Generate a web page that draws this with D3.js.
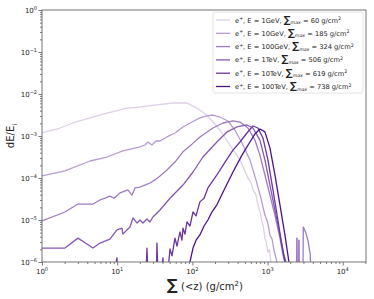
<!DOCTYPE html>
<html lang="en">
<head>
<meta charset="UTF-8"/>
<title>Shower profile</title>
<script src="https://d3js.org/d3.v7.min.js"></script>
<style>
  body { margin: 0; background: #fff; }
  text { font-family: "DejaVu Sans", sans-serif; fill: #222; }
</style>
</head>
<body>
<script>
    var w = 374;
    var h = 299;
    var margin = {left: 42, right: 8, top: 10, bottom: 37};

    // legend text pieces
    var energies = ["1GeV", "10GeV", "100GeV", "1TeV", "10TeV", "100TeV"];
    var sigmaMax = [60, 185, 324, 506, 619, 738];
    var colors = ["#ddd0e8", "#b69cd2", "#9d7cc4", "#8658b4", "#6b35a2", "#4c1289"];

    var xMajor = [1, 10, 100, 1000, 10000];
    var yMajor = [1e-6, 1e-5, 1e-4, 1e-3, 1e-2, 1e-1, 1];

    // [depth g/cm2, dE/Ei]; 1e-7 = dropped to zero
    var e1GeV = [[1, 1.18e-3], [1.74, 1.55e-3], [2.58, 2.04e-3], [4.35, 2.7e-3], [7.3, 3.5e-3],
        [13.5, 4.6e-3], [20.1, 4.9e-3], [33.8, 5.5e-3], [55.2, 6.1e-3], [84.8, 6.1e-3],
        [115, 4.6e-3], [156, 3.16e-3], [233, 1.39e-3], [316, 6.1e-4], [430, 2.7e-4],
        [549, 1.0e-4], [600, 8.0e-5], [640, 5.2e-5], [700, 4.0e-5], [745, 2.3e-5],
        [800, 1.5e-5], [843, 9.0e-6], [880, 7.0e-6], [923, 3.7e-6], [960, 3.0e-6],
        [1012, 1.7e-6], [1060, 2.0e-6], [1109, 1.0e-6], [1150, 1e-7]];

    var e10GeV = [[1, 1.12e-4], [2.02, 1.47e-4], [4.35, 2.54e-4], [7.3, 3.16e-4], [11.9, 4.4e-4],
        [20.1, 5.5e-4], [23.4, 6.1e-4], [25.7, 7.2e-4], [29.0, 6.1e-4], [32.8, 7.6e-4],
        [37.1, 7.6e-4], [45.9, 9.5e-4], [58.7, 1.18e-3], [75.0, 1.64e-3], [98.8, 2.15e-3],
        [126, 2.7e-3], [156, 3.0e-3], [188, 3.16e-3], [233, 2.83e-3], [297, 2.28e-3],
        [368, 1.39e-3], [457, 6.8e-4], [583, 2.7e-4], [701, 9.0e-5], [817, 3.3e-5],
        [923, 1.31e-5], [1000, 9.0e-6], [1076, 4.4e-6], [1150, 3.5e-6], [1217, 1.93e-6],
        [1334, 1.0e-6], [1380, 1e-7]];

    var e100GeV = [[1, 9.5e-6], [2.02, 1.55e-5], [3.01, 2.4e-5], [4.77, 2.4e-5], [5.91, 3.0e-5],
        [6.88, 3.3e-5], [8.02, 3.7e-5], [9.06, 3.3e-5], [10.9, 4.4e-5], [13.9, 5.2e-5],
        [15.7, 3.9e-5], [17.3, 5.8e-5], [20.1, 6.1e-5], [23.4, 6.8e-5], [27.3, 7.6e-5],
        [31.8, 9.0e-5], [37.1, 1.12e-4], [45.9, 1.55e-4], [58.7, 2.4e-4], [75.0, 4.2e-4],
        [98.8, 6.4e-4], [126, 9.5e-4], [188, 1.55e-3], [255, 2.04e-3], [347, 2.28e-3],
        [430, 2.15e-3], [549, 1.55e-3], [680, 8.0e-4], [792, 3.5e-4], [923, 1.18e-4],
        [1076, 3.9e-5], [1254, 1.31e-5], [1462, 3.7e-6], [1603, 1.47e-6], [1703, 1.0e-6],
        [1750, 1e-7], [2940, 1e-7], [2990, 6.8e-6], [3200, 5.2e-6], [3443, 3.3e-6],
        [3700, 1.5e-6], [3892, 1e-7]];

    var e1TeV = [[1, 2.15e-6], [2.02, 2.15e-6], [3.01, 3.7e-6], [4.77, 2.15e-6], [5.91, 2.83e-6],
        [8.02, 3.5e-6], [9.93, 5.8e-6], [11.6, 6.4e-6], [11.9, 4.6e-6], [14.8, 6.8e-6],
        [16.2, 1.12e-5], [18.3, 8.5e-6], [20.1, 1.0e-5], [22.0, 8.5e-6], [24.9, 1.06e-5],
        [27.3, 9.0e-6], [29.9, 1.18e-5], [34.9, 1.55e-5], [37.1, 1.73e-5], [50.4, 3.3e-5],
        [75.0, 6.8e-5], [102, 1.39e-4], [138, 3.16e-4], [212, 7.2e-4], [289, 1.25e-3],
        [392, 1.64e-3], [532, 1.83e-3], [640, 1.55e-3], [792, 8.0e-4], [923, 2.7e-4],
        [1076, 6.8e-5], [1254, 1.73e-5], [1462, 4.4e-6], [1652, 1.47e-6], [1757, 1.0e-6],
        [1800, 1e-7], [2440, 1e-7], [2461, 3.7e-6], [2480, 1e-7], [2600, 1e-7],
        [2616, 3.3e-6], [2640, 1e-7]];

    var e10TeV = [[8.02, 1e-7], [9.93, 1.25e-6], [10.2, 1e-7], [23.4, 1e-7], [24.9, 2.15e-6],
        [26.5, 1e-7], [32.8, 1e-7], [33.8, 2.83e-6], [35.9, 1e-7], [40.6, 1.25e-6],
        [43.2, 1e-7], [50.4, 2.04e-6], [53.6, 1.4e-6], [58.7, 3.7e-6], [62.4, 2.4e-6],
        [68.4, 5.2e-6], [72.7, 3.3e-6], [75.0, 6.4e-6], [79.7, 4.6e-6], [84.8, 9.0e-6],
        [92.9, 7.2e-6], [102, 1.55e-5], [112, 1.25e-5], [126, 2.7e-5], [143, 3.3e-5],
        [161, 5.8e-5], [212, 1.18e-4], [272, 2.4e-4], [347, 4.6e-4], [430, 7.2e-4],
        [532, 1.18e-3], [640, 1.73e-3], [745, 1.55e-3], [869, 9.0e-4], [1012, 2.7e-4],
        [1180, 5.2e-5], [1374, 1.0e-5], [1553, 2.5e-6], [1703, 1.0e-6], [1760, 1e-7]];

    var e100TeV = [[87.4, 1e-7], [92.9, 1.0e-6], [102, 2.15e-6], [112, 3.3e-6], [126, 4.4e-6],
        [143, 7.2e-6], [161, 1.0e-5], [182, 1.55e-5], [212, 2.3e-5], [272, 5.8e-5],
        [347, 1.39e-4], [457, 3.5e-4], [583, 7.2e-4], [680, 1.12e-3], [792, 1.47e-3],
        [923, 1.25e-3], [1076, 5.2e-4], [1254, 1.18e-4], [1462, 2.3e-5], [1703, 4.4e-6],
        [1926, 1.0e-6], [2000, 1e-7]];

    var series = [e1GeV, e10GeV, e100GeV, e1TeV, e10TeV, e100TeV];

    var xScale = d3.scaleLog()
                   .domain([1, 2.04e4])
                   .range([margin.left, w - margin.right]);

    var yScale = d3.scaleLog()
                   .domain([1e-6, 1])
                   .range([h - margin.bottom, margin.top]);

    var svg = d3.select("body")
                .append("svg")
                .attr("width", w)
                .attr("height", h);

    svg.append("clipPath")
       .attr("id", "plotclip")
       .append("rect")
       .attr("x", margin.left)
       .attr("y", margin.top)
       .attr("width", w - margin.right - margin.left)
       .attr("height", h - margin.bottom - margin.top);

    var line = d3.line()
                 .x(function(d) { return xScale(d[0]); })
                 .y(function(d) { return yScale(d[1]); });

    svg.append("g")
       .attr("clip-path", "url(#plotclip)")
       .selectAll("path")
       .data(series)
       .enter()
       .append("path")
       .attr("d", line)
       .attr("fill", "none")
       .attr("stroke", function(d, i) { return colors[i]; })
       .attr("stroke-width", 1.3)
       .attr("stroke-linejoin", "round");

    // minor ticks
    var xMinor = [];
    var yMinor = [];
    xMajor.forEach(function(m) {
        for (var k = 2; k < 10; k++) {
            if (m * k <= 2.04e4) xMinor.push(m * k);
        }
    });
    yMajor.forEach(function(m) {
        for (var k = 2; k < 10; k++) {
            if (m * k < 1) yMinor.push(m * k);
        }
    });

    var bottom = h - margin.bottom;

    svg.append("g")
       .attr("transform", "translate(0," + bottom + ")")
       .call(d3.axisBottom(xScale).tickValues(xMinor).tickSize(2).tickFormat(""))
       .call(function(g) { g.select(".domain").remove(); });
    svg.append("g")
       .attr("transform", "translate(" + margin.left + ",0)")
       .call(d3.axisLeft(yScale).tickValues(yMinor).tickSize(2).tickFormat(""))
       .call(function(g) { g.select(".domain").remove(); });

    var xAxis = svg.append("g")
       .attr("transform", "translate(0," + bottom + ")")
       .call(d3.axisBottom(xScale).tickValues(xMajor).tickSize(3.5).tickFormat(""));
    xAxis.select(".domain").remove();

    var yAxis = svg.append("g")
       .attr("transform", "translate(" + margin.left + ",0)")
       .call(d3.axisLeft(yScale).tickValues(yMajor).tickSize(3.5).tickFormat(""));
    yAxis.select(".domain").remove();

    svg.selectAll(".tick line").attr("stroke", "#444").attr("stroke-width", 0.7);

    function expo(v) {
        return String(Math.round(Math.log10(v))).replace("-", "\u2212");
    }

    xMajor.forEach(function(v) {
        var t = svg.append("text")
           .attr("x", xScale(v))
           .attr("y", bottom + 12)
           .attr("text-anchor", "middle")
           .attr("font-size", 7);
        t.append("tspan").text("10");
        t.append("tspan").attr("dy", -3).attr("font-size", 5).text(expo(v));
    });

    yMajor.forEach(function(v) {
        var t = svg.append("text")
           .attr("x", margin.left - 5)
           .attr("y", yScale(v) + 3)
           .attr("text-anchor", "end")
           .attr("font-size", 7);
        t.append("tspan").text("10");
        t.append("tspan").attr("dy", -3).attr("font-size", 5).text(expo(v));
    });

    // frame
    svg.append("rect")
       .attr("x", margin.left)
       .attr("y", margin.top)
       .attr("width", w - margin.right - margin.left)
       .attr("height", h - margin.bottom - margin.top)
       .attr("fill", "none")
       .attr("stroke", "#666")
       .attr("stroke-width", 0.9);

    // axis titles
    var yl = svg.append("text")
       .attr("transform", "translate(14," + ((margin.top + bottom) / 2) + ") rotate(-90)")
       .attr("text-anchor", "middle")
       .attr("font-size", 10);
    yl.append("tspan").text("dE/E");
    yl.append("tspan").attr("dy", 2.5).attr("font-size", 7).text("i");

    var xl = svg.append("text")
       .attr("x", 205)
       .attr("y", 290)
       .attr("text-anchor", "middle")
       .attr("font-size", 10);
    xl.append("tspan").attr("font-size", 15).attr("font-weight", "bold").text("\u2211");
    xl.append("tspan").text(" (<z) (g/cm");
    xl.append("tspan").attr("dy", -4).attr("font-size", 7).text("2");
    xl.append("tspan").attr("dy", 4).text(")");

    // legend
    var lg = svg.append("g");
    lg.append("rect")
      .attr("x", 213)
      .attr("y", 12)
      .attr("width", 150)
      .attr("height", 81)
      .attr("rx", 2)
      .attr("fill", "white")
      .attr("fill-opacity", 0.85)
      .attr("stroke", "#ddd")
      .attr("stroke-width", 0.8);

    energies.forEach(function(e, i) {
        var yy = 20 + i * 13.3;
        lg.append("line")
          .attr("x1", 216).attr("x2", 230)
          .attr("y1", yy).attr("y2", yy)
          .attr("stroke", colors[i])
          .attr("stroke-width", 1.3);
        var t = lg.append("text")
          .attr("x", 235)
          .attr("y", yy + 2.5)
          .attr("font-size", 6.7);
        t.append("tspan").text("e");
        t.append("tspan").attr("dy", -2.5).attr("font-size", 4.7).text("+");
        t.append("tspan").attr("dy", 2.5).text(", E = " + e + ", ");
        t.append("tspan").attr("font-size", 9.5).attr("font-weight", "bold").text("\u2211");
        t.append("tspan").attr("dy", 1.5).attr("font-size", 4.7).attr("font-style", "italic").text("max");
        t.append("tspan").attr("dy", -1.5).text(" = " + sigmaMax[i] + " g/cm");
        t.append("tspan").attr("dy", -2.5).attr("font-size", 4.7).text("2");
    });
</script>
</body>
</html>
